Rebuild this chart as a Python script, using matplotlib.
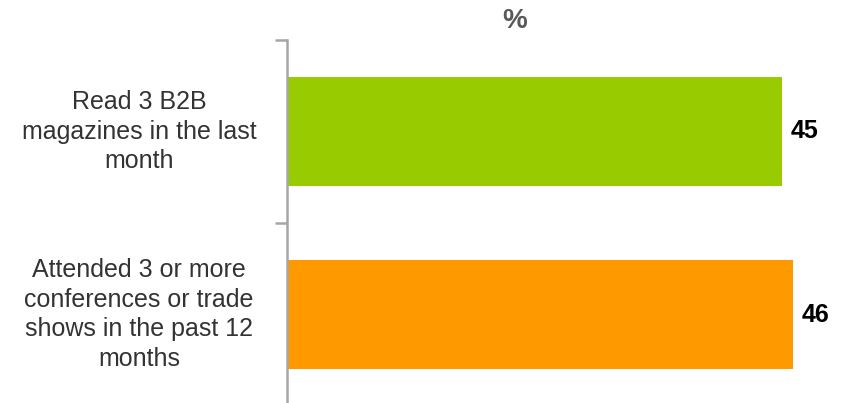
import matplotlib.pyplot as plt
from matplotlib import transforms

categories = ['Read 3 B2B\nmagazines in the last\nmonth',
              'Attended 3 or more\nconferences or trade\nshows in the past 12\nmonths']
values = [45, 46]
colors = ['#99CC00', '#FF9900']

plt.rcParams['font.family'] = ['Liberation Sans', 'DejaVu Sans']

fig = plt.figure(figsize=(8.47, 4.03), dpi=100)
ax = fig.add_axes([287 / 847, -3 / 403, 550 / 847, 366 / 403])

pos = [0.5, 1.5]
ax.barh(pos, values, height=0.6, color=colors)
ax.set_xlim(0, 50)
ax.set_ylim(2, 0)

for spine in ['top', 'right', 'bottom']:
    ax.spines[spine].set_visible(False)
ax.spines['left'].set_color('#a6a6a6')
ax.spines['left'].set_linewidth(1.8)
ax.set_xticks([])
ax.set_yticks([0, 1, 2])
ax.set_yticklabels([])
ax.tick_params(axis='y', length=9, width=1.8, color='#a6a6a6')

trans = transforms.blended_transform_factory(fig.transFigure, ax.transData)
for p, lab in zip(pos, categories):
    ax.text(139 / 847, p, lab, transform=trans, ha='center', va='center',
            multialignment='center', fontsize=18, color='#333333',
            linespacing=1.3)

for p, v in zip(pos, values):
    ax.annotate(str(v), (v, p), xytext=(9, 0), textcoords='offset pixels',
                ha='left', va='center', fontsize=18, fontweight='bold',
                color='black')

fig.text(515 / 847, 1 - 21 / 403, '%', ha='center', va='center',
         fontsize=20, fontweight='bold', color='#595959')

fig.savefig('out.png', dpi=100)
